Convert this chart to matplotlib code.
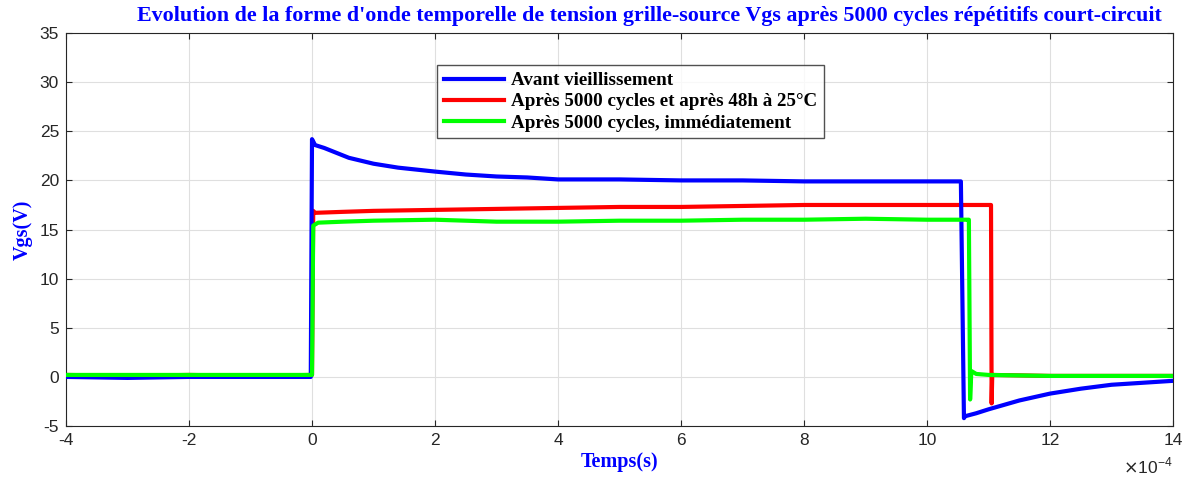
import matplotlib.pyplot as plt

plt.rcParams['axes.unicode_minus'] = False

# time in units of 1e-4 s, voltage in V
t_avant = [-4.0, -3.0, -2.0, -1.0, -0.02, 0.0, 0.05, 0.2, 0.4, 0.6, 0.8, 1.0, 1.4, 2.0, 2.5, 3.0,
           3.5, 4.0, 5.0, 6.0, 7.0, 8.0, 9.0, 10.0, 10.55, 10.6, 10.62, 10.8, 11.0,
           11.5, 12.0, 12.5, 13.0, 13.5, 14.0]
v_avant = [0.0, -0.1, 0.0, 0.0, 0.0, 24.2, 23.6, 23.3, 22.8, 22.3, 22.0, 21.7, 21.3, 20.9, 20.6, 20.4,
           20.3, 20.1, 20.1, 20.0, 20.0, 19.9, 19.9, 19.9, 19.9, -4.2, -4.0, -3.7, -3.3,
           -2.4, -1.7, -1.2, -0.8, -0.6, -0.4]

t_48h = [-4.0, -3.0, -2.0, -1.0, 0.0, 0.02, 0.05, 0.5, 1.0, 2.0, 3.0, 4.0, 5.0, 6.0, 7.0,
         8.0, 9.0, 10.0, 11.0, 11.04, 11.05, 11.06, 12.0, 13.0, 14.0]
v_48h = [0.2, 0.1, 0.2, 0.1, 0.2, 16.9, 16.7, 16.8, 16.9, 17.0, 17.1, 17.2, 17.3, 17.3, 17.4,
         17.5, 17.5, 17.5, 17.5, 17.5, -2.7, 0.2, 0.1, 0.1, 0.1]

t_imm = [-4.0, -3.0, -2.0, -1.0, 0.0, 0.02, 0.1, 0.5, 1.0, 2.0, 3.0, 4.0, 5.0, 6.0, 7.0,
         8.0, 9.0, 10.0, 10.65, 10.68, 10.7, 10.72, 10.8, 11.0, 12.0, 13.0, 14.0]
v_imm = [0.2, 0.2, 0.2, 0.2, 0.2, 15.4, 15.7, 15.8, 15.9, 16.0, 15.8, 15.8, 15.9, 15.9, 16.0,
         16.0, 16.1, 16.0, 16.0, 16.0, -2.3, 0.6, 0.3, 0.2, 0.1, 0.1, 0.1]

labels = ['Avant vieillissement',
          'Après 5000 cycles et après 48h à 25°C',
          'Après 5000 cycles, immédiatement']

serif = ['Liberation Serif', 'DejaVu Serif']
sans = ['Liberation Sans', 'DejaVu Sans']

fig = plt.figure(figsize=(11.89, 4.79), dpi=100)
ax = fig.add_axes([0.0555, 0.1106, 0.9311, 0.8204])

ax.plot(t_avant, v_avant, color='#0000ff', lw=3, label=labels[0], zorder=3)
ax.plot(t_48h, v_48h, color='#ff0000', lw=3, label=labels[1], zorder=2)
ax.plot(t_imm, v_imm, color='#00ff00', lw=3, label=labels[2], zorder=4)

ax.set_xlim(-4, 14)
ax.set_ylim(-5, 35)
ax.set_xticks(range(-4, 15, 2))
ax.set_yticks(range(-5, 36, 5))
ax.grid(True, color='#dfdfdf', lw=0.8)
ax.set_axisbelow(True)
ax.tick_params(direction='in', top=True, right=True, labelsize=12.5, colors='#262626', length=4, pad=5)
for lbl in ax.get_xticklabels() + ax.get_yticklabels():
    lbl.set_family(sans)
for s in ax.spines.values():
    s.set_color('#262626')
    s.set_linewidth(0.8)

ax.text(1.0, -0.075, r'$\times$10$^{\mathregular{-4}}$', transform=ax.transAxes, ha='right', va='top',
        fontsize=12.5, color='#262626', family=sans)

ax.set_title("Evolution de la forme d'onde temporelle de tension grille-source Vgs après 5000 cycles répétitifs court-circuit",
             family=serif, fontweight='bold', color='#0000ff', fontsize=15.8, pad=9, x=0.527)
ax.set_xlabel('Temps(s)', family=serif, fontweight='bold', color='#0000ff', fontsize=14.5, labelpad=3)
ax.set_ylabel('Vgs(V)', family=serif, fontweight='bold', color='#0000ff', fontsize=14.5, labelpad=5)

leg = ax.legend(loc='upper left', bbox_to_anchor=(0.335, 0.918), prop={'family': serif, 'weight': 'bold', 'size': 13.7},
                frameon=True, fancybox=False, edgecolor='#262626', handlelength=3.2, handletextpad=0.35,
                borderpad=0.35, labelspacing=0.2, borderaxespad=0)
leg.get_frame().set_linewidth(1.0)

fig.savefig('out.png', dpi=100)
